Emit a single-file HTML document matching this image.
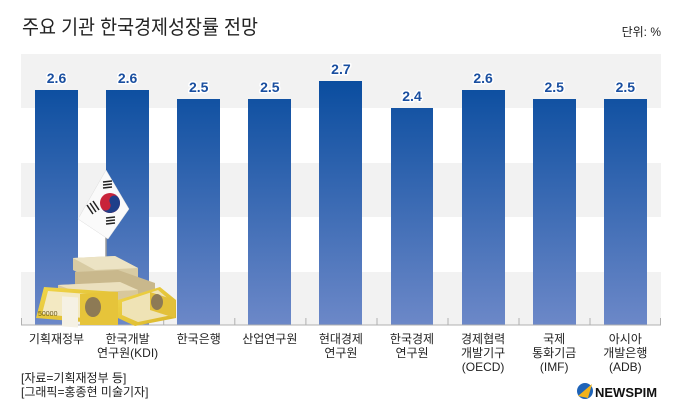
<!DOCTYPE html>
<html><head><meta charset="utf-8">
<style>
html,body{margin:0;padding:0;background:#fff;}
body{width:680px;height:418px;overflow:hidden;position:relative;font-family:"Liberation Sans","Noto Sans CJK KR",sans-serif;}
svg{position:absolute;left:0;top:0;}
</style></head><body>
<svg width="680" height="418" viewBox="0 0 680 418" xmlns="http://www.w3.org/2000/svg" font-family="Liberation Sans, Noto Sans CJK KR, sans-serif">
<defs>
<linearGradient id="bg" gradientUnits="userSpaceOnUse" x1="0" y1="81" x2="0" y2="325">
<stop offset="0" stop-color="#0a4d9f"/>
<stop offset="1" stop-color="#6c88c8"/>
</linearGradient>
<linearGradient id="bill" x1="0" y1="0" x2="1" y2="1">
<stop offset="0" stop-color="#f1d64a"/>
<stop offset="1" stop-color="#d9b52a"/>
</linearGradient>
</defs>
<!-- title -->
<text x="22" y="34" font-size="20" fill="#222" textLength="236" lengthAdjust="spacingAndGlyphs">주요 기관 한국경제성장률 전망</text>
<text x="661" y="36" font-size="12" fill="#222" text-anchor="end">단위: %</text>
<!-- bands -->
<rect x="21" y="54" width="640" height="54" fill="#f2f2f2"/>
<rect x="21" y="163" width="640" height="54" fill="#f2f2f2"/>
<rect x="21" y="272" width="640" height="53" fill="#f2f2f2"/>
<!-- bars -->
<g fill="url(#bg)">
<rect x="35" y="90" width="43" height="235"/>
<rect x="106" y="90" width="43" height="235"/>
<rect x="177" y="99" width="43" height="226"/>
<rect x="248" y="99" width="43" height="226"/>
<rect x="319" y="81" width="43" height="244"/>
<rect x="391" y="108" width="42" height="217"/>
<rect x="462" y="90" width="43" height="235"/>
<rect x="533" y="99" width="43" height="226"/>
<rect x="604" y="99" width="43" height="226"/>
</g>
<!-- axis -->
<line x1="21" y1="325" x2="661" y2="325" stroke="#b0b0b0" stroke-width="1"/>
<g stroke="#b0b0b0" stroke-width="1">
<line x1="21.5" y1="318" x2="21.5" y2="325"/>
<line x1="92.6" y1="318" x2="92.6" y2="325"/>
<line x1="163.7" y1="318" x2="163.7" y2="325"/>
<line x1="234.8" y1="318" x2="234.8" y2="325"/>
<line x1="305.9" y1="318" x2="305.9" y2="325"/>
<line x1="377" y1="318" x2="377" y2="325"/>
<line x1="448" y1="318" x2="448" y2="325"/>
<line x1="519" y1="318" x2="519" y2="325"/>
<line x1="590" y1="318" x2="590" y2="325"/>
<line x1="660.5" y1="318" x2="660.5" y2="325"/>
</g>
<!-- value labels -->
<g font-size="14" font-weight="bold" fill="#1a4fa0" text-anchor="middle" stroke="#fff" stroke-width="3" paint-order="stroke" stroke-linejoin="round">
<text x="56.5" y="83">2.6</text>
<text x="127.6" y="83">2.6</text>
<text x="198.7" y="92">2.5</text>
<text x="269.8" y="92">2.5</text>
<text x="340.9" y="74">2.7</text>
<text x="412" y="101">2.4</text>
<text x="483.1" y="83">2.6</text>
<text x="554.2" y="92">2.5</text>
<text x="625.3" y="92">2.5</text>
</g>
<!-- flag and money -->
<line x1="106" y1="172" x2="106" y2="262" stroke="#9a9a9a" stroke-width="1.5"/>
<polygon points="106,170 129,209 108,239 78,219" fill="#fafafa" stroke="#ddd" stroke-width="0.5"/>
<circle cx="110" cy="203" r="10" fill="#c8233a"/>
<path d="M100,203 A10,10 0 0 0 120,203 A5,5 0 0 0 110,203 A5,5 0 0 1 100,203 Z" fill="#1f3f8a" transform="rotate(-30 110 203)"/>
<g stroke="#222" stroke-width="1.5">
<line x1="103" y1="182" x2="112" y2="181"/><line x1="103" y1="185" x2="112" y2="184"/><line x1="103" y1="188" x2="112" y2="187"/>
<line x1="87" y1="205" x2="93" y2="214"/><line x1="90" y1="203" x2="96" y2="212"/><line x1="93" y1="201" x2="99" y2="210"/>
<line x1="106" y1="218" x2="115" y2="217"/><line x1="106" y1="221" x2="115" y2="220"/><line x1="106" y1="224" x2="115" y2="223"/>
</g>
<!-- back stacks -->
<polygon points="73,258 115,256 138,268 138,280 95,282 73,270" fill="#d8cba3"/>
<polygon points="73,258 115,256 138,268 95,270" fill="#ece3c4"/>
<polygon points="75,272 118,270 155,283 155,300 110,302 75,292" fill="#c9b88c"/>
<polygon points="58,285 120,282 138,290 138,305 80,308 58,300" fill="#d8c89c"/>
<polygon points="58,285 120,282 138,290 80,293" fill="#ebe0be"/>
<!-- front bills -->
<polygon points="44,287 118,292 118,325 36,318" fill="url(#bill)"/>
<polygon points="48,291 114,296 114,321 42,314" fill="#f3e9c2"/>
<rect x="62" y="292" width="16" height="30" fill="#f5f1e4" transform="skewY(4)"/>
<polygon points="80,294 118,292 118,325 80,325" fill="#e6c43a"/>
<ellipse cx="93" cy="307" rx="8" ry="10" fill="#8d7a55"/>
<text x="38" y="316" font-size="7" fill="#6b5a20">50000</text>
<polygon points="118,300 160,287 176,300 176,318 135,326 118,318" fill="url(#bill)"/>
<polygon points="122,302 158,290 172,302 172,315 138,322 122,315" fill="#efe3b5"/>
<polygon points="150,292 175,300 175,318 150,310" fill="#e3c03a"/>
<ellipse cx="157" cy="302" rx="6" ry="8" fill="#8d7a55"/>
<!-- category labels -->
<g font-size="12" fill="#222" text-anchor="middle">
<text x="56.5" y="343">기획재정부</text>
<text x="127.6" y="343">한국개발</text>
<text x="127.6" y="357">연구원(KDI)</text>
<text x="198.7" y="343">한국은행</text>
<text x="269.8" y="343">산업연구원</text>
<text x="340.9" y="343">현대경제</text>
<text x="340.9" y="357">연구원</text>
<text x="412" y="343">한국경제</text>
<text x="412" y="357">연구원</text>
<text x="483.1" y="343">경제협력</text>
<text x="483.1" y="357">개발기구</text>
<text x="483.1" y="371">(OECD)</text>
<text x="554.2" y="343">국제</text>
<text x="554.2" y="357">통화기금</text>
<text x="554.2" y="371">(IMF)</text>
<text x="625.3" y="343">아시아</text>
<text x="625.3" y="357">개발은행</text>
<text x="625.3" y="371">(ADB)</text>
</g>
<!-- footnotes -->
<text x="21" y="382" font-size="12" fill="#222">[자료=기획재정부 등]</text>
<text x="21" y="396" font-size="12" fill="#222">[그래픽=홍종현 미술기자]</text>
<!-- logo -->
<circle cx="585" cy="391" r="8" fill="#1e63b8"/>
<path d="M578,396 L592,384 L588,398 Z" fill="#f1b21a"/>
<text x="595" y="397" font-size="13" font-weight="bold" fill="#111">NEWSPIM</text>
</svg>
</body></html>
